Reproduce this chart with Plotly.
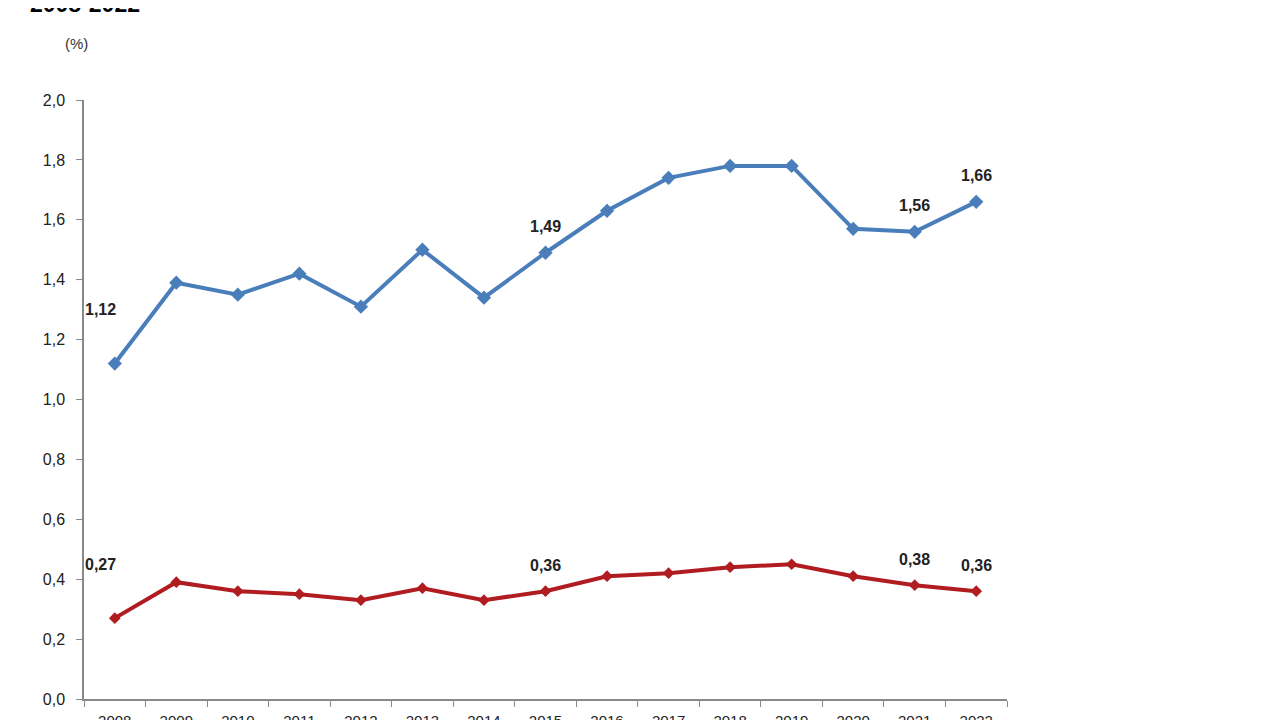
import plotly.graph_objects as go

# Data
years = [str(y) for y in range(2008, 2023)]
series_top = [1.12, 1.39, 1.35, 1.42, 1.31, 1.50, 1.34, 1.49, 1.63, 1.74, 1.78, 1.78, 1.57, 1.56, 1.66]
series_bottom = [0.27, 0.39, 0.36, 0.35, 0.33, 0.37, 0.33, 0.36, 0.41, 0.42, 0.44, 0.45, 0.41, 0.38, 0.36]
labelled_years = ["2008", "2015", "2021", "2022"]

blue = "#4A7EBB"
red = "#B01C20"
font_family = "Arial, Liberation Sans, sans-serif"

fig = go.Figure()
fig.add_trace(go.Scatter(x=years, y=series_top, mode="lines+markers",
                         line=dict(color=blue, width=4),
                         marker=dict(symbol="diamond", size=11, color=blue)))
fig.add_trace(go.Scatter(x=years, y=series_bottom, mode="lines+markers",
                         line=dict(color=red, width=4),
                         marker=dict(symbol="diamond", size=9, color=red)))

# data labels (x given as category index)
for series in (series_top, series_bottom):
    for yr in labelled_years:
        i = years.index(yr)
        first = (i == 0)
        fig.add_annotation(x=i, y=series[i], text=f"{series[i]:.2f}".replace(".", ","),
                           showarrow=False, xshift=-14 if first else 0,
                           yshift=54 if first else 26,
                           font=dict(family=font_family, size=16, color="#222222", weight="bold"))

# cropped title and unit
fig.add_annotation(xref="paper", yref="paper", x=-0.0607, y=1.160, xanchor="left", yanchor="middle",
                   text="<b>2008-2022</b>", showarrow=False,
                   font=dict(family=font_family, size=23, color="#000000"))
fig.add_annotation(xref="paper", yref="paper", x=-0.0076, y=1.095, xanchor="center", yanchor="middle",
                   text="(%)", showarrow=False,
                   font=dict(family=font_family, size=15, color="#333333"))

# page has an 8px body margin, so margins are trimmed by 8
fig.update_layout(
    width=1280, height=720,
    margin=dict(l=76, r=281, t=92, b=29),
    plot_bgcolor="white", paper_bgcolor="white",
    showlegend=False,
    separators=",.",
    font=dict(family=font_family, size=15, color="#333333"),
)
fig.update_xaxes(type="category", range=[-0.5, len(years) - 0.5], automargin=False,
                 showline=True, linecolor="#888888", linewidth=1.5, tickangle=0,
                 ticks="outside", tickson="boundaries", ticklen=6, tickcolor="#888888",
                 ticklabelstandoff=7,
                 showgrid=False, tickfont=dict(size=15, color="#222222"))
fig.update_yaxes(range=[0, 2.0], dtick=0.2, tickformat=".1f", showline=True, automargin=False,
                 linecolor="#888888", linewidth=1.5, ticks="outside", ticklen=6,
                 tickcolor="#888888", ticklabelstandoff=8,
                 showgrid=False, zeroline=False,
                 tickfont=dict(size=16, color="#222222"))

fig.write_html("out.html")
